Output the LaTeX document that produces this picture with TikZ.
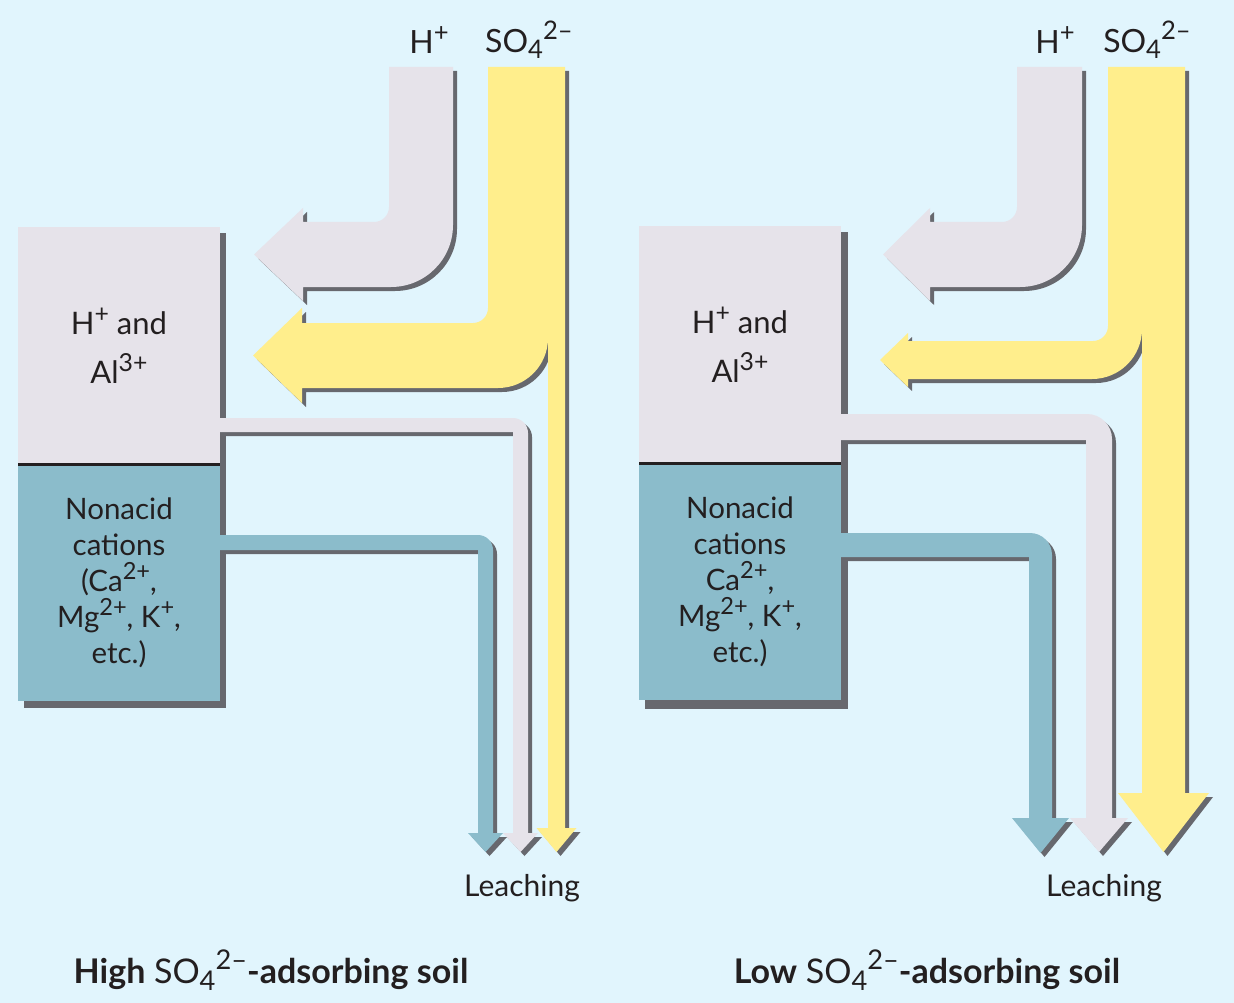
\documentclass[tikz,border=0pt]{standalone}
\usepackage{fontspec}
\setmainfont{Lato}
\usetikzlibrary{positioning, shadows}

\definecolor{bgc}{RGB}{225,245,253}
\definecolor{lav}{RGB}{230,227,234}
\definecolor{tealc}{RGB}{139,188,203}
\definecolor{yel}{RGB}{255,238,140}
\definecolor{shadowc}{RGB}{103,104,110}
\definecolor{ink}{RGB}{35,31,32}

% ion charges and subscripts, about 0.8 of the running size
\makeatletter
\newlength\ionsize
\newcommand\ionup[1]{\ionsize=0.8\dimexpr\f@size pt\relax
  \raisebox{0.4em}{\fontsize{\ionsize}{\ionsize}\selectfont #1}}
\newcommand\iondown[1]{\ionsize=0.8\dimexpr\f@size pt\relax
  \raisebox{-0.2em}{\fontsize{\ionsize}{\ionsize}\selectfont #1}}
\makeatother

\begin{document}
\begin{tikzpicture}[
  x=1pt, y=-1pt,
  % Soil compartment; colour supplied per node as soil=<colour>
  soil/.style={
    rectangle, fill=#1,
    minimum width=202, minimum height=237,
    inner sep=0pt, outer sep=0pt, align=center, text=ink
  },
  % Ion flow band; colour supplied as flow=<colour>
  flow/.style={
    fill=#1,
    drop shadow={shadow xshift=4pt, shadow yshift=-4pt, opacity=1, fill=shadowc}
  },
  acidtxt/.style={font=\fontsize{31}{49}\selectfont},
  basetxt/.style={font=\fontsize{29.5}{36}\selectfont},
  ion/.style={font=\fontsize{32}{36}\selectfont, text=ink},
  tag/.style={font=\fontsize{30}{34}\selectfont, text=ink},
  caption/.style={font=\fontsize{34}{36}\selectfont, text=ink},
  split/.style={draw=ink, line width=3pt},
]

\useasboundingbox (0,0) rectangle (1234,1003);
\fill[bgc] (0,0) rectangle (1234,1003);

%% ── Left panel: soil compartments ─────────────────────────────────────────
\fill[shadowc] (24,233) rectangle (226,708);
\node[soil=lav, acidtxt, anchor=north west] (acidL) at (18,227)
  {H\ionup{+} and\\Al\ionup{3+}};
\node[soil=tealc, basetxt, below=0pt of acidL] (baseL)
  {Nonacid\\cations\\(Ca\ionup{2+},\\Mg\ionup{2+}, K\ionup{+},\\etc.)};
\draw[split] (acidL.south west) -- (acidL.south east);

%% ── Left panel: leaching bands ────────────────────────────────────────────
\fill[flow=lav] (acidL.east |- 0,418) -- (513,418)
  arc[start angle=-90, end angle=0, radius=15] -- (528,833) -- (538,833)
  -- (520.5,852) -- (503,833) -- (513,833) -- (513,432)
  -- (acidL.east |- 0,432) -- cycle;
\fill[flow=tealc] (baseL.east |- 0,535) -- (478,535)
  arc[start angle=-90, end angle=0, radius=15] -- (493,833) -- (503,833)
  -- (485.5,852) -- (468,833) -- (478,833) -- (478,550)
  -- (baseL.east |- 0,550) -- cycle;

%% ── Left panel: inputs ────────────────────────────────────────────────────
\fill[flow=lav] (389,67) -- (389,207)
  arc[start angle=0, end angle=90, radius=15] -- (303,222) -- (303,208)
  -- (254,254.5) -- (303,301) -- (303,287) -- (391,287)
  arc[start angle=90, end angle=0, radius=62] -- (453,67) -- cycle;
\fill[flow=yel] (488,67) -- (488,308)
  arc[start angle=0, end angle=90, radius=15] -- (302,323) -- (302,308)
  -- (253,355.5) -- (302,403) -- (302,388) -- (498,388)
  arc[start angle=90, end angle=0, radius=50] -- (548,828) -- (536.5,828)
  -- (556.5,852) -- (576.5,828) -- (565,828) -- (565,67) -- cycle;

%% ── Right panel: soil compartments ────────────────────────────────────────
\fill[shadowc] (645,232) rectangle (848,709);
\node[soil=lav, acidtxt, anchor=north west] (acidR) at (639,226)
  {H\ionup{+} and\\Al\ionup{3+}};
\node[soil=tealc, basetxt, below=0pt of acidR] (baseR)
  {Nonacid\\cations\\Ca\ionup{2+},\\Mg\ionup{2+}, K\ionup{+},\\etc.)};
\draw[split] (acidR.south west) -- (acidR.south east);

%% ── Right panel: leaching bands ───────────────────────────────────────────
\fill[flow=lav] (acidR.east |- 0,414) -- (1087,414)
  arc[start angle=-90, end angle=0, radius=25] -- (1112,818) -- (1128,818)
  -- (1099,852) -- (1070,818) -- (1086,818) -- (1086,440)
  -- (acidR.east |- 0,440) -- cycle;
\fill[flow=tealc] (baseR.east |- 0,533) -- (1030,533)
  arc[start angle=-90, end angle=0, radius=22] -- (1052,818) -- (1069,818)
  -- (1040.5,853) -- (1012,818) -- (1029,818) -- (1029,557)
  -- (baseR.east |- 0,557) -- cycle;

%% ── Right panel: inputs ───────────────────────────────────────────────────
\fill[flow=lav] (1017,67) -- (1017,207)
  arc[start angle=0, end angle=90, radius=15] -- (930,222) -- (930,208)
  -- (883,254.5) -- (930,301) -- (930,287) -- (1020,287)
  arc[start angle=90, end angle=0, radius=62] -- (1082,67) -- cycle;
\fill[flow=yel] (1108,67) -- (1108,326)
  arc[start angle=0, end angle=90, radius=15] -- (908,341) -- (908,333)
  -- (880,360) -- (908,387) -- (908,379) -- (1092,379)
  arc[start angle=90, end angle=0, radius=50] -- (1142,793) -- (1118,793)
  -- (1163.5,852) -- (1209,793) -- (1185,793) -- (1185,67) -- cycle;

%% ── Labels ────────────────────────────────────────────────────────────────
\node[ion] (hL)  at (429,40)  {H\ionup{+}};
\node[ion] (soL) at (529,40)  {SO\iondown{4}\ionup{2–}};
\node[ion] (hR)  at (1055,40) {H\ionup{+}};
\node[ion] (soR) at (1147,40) {SO\iondown{4}\ionup{2–}};

\node[tag] (leachL) at (522,888)  {Leaching};
\node[tag] (leachR) at (1104,888) {Leaching};

\node[caption] (capL) at (271,970)
  {\textbf{High} SO\iondown{4}\ionup{2–}\textbf{-adsorbing soil}};
\node[caption] (capR) at (927,970)
  {\textbf{Low} SO\iondown{4}\ionup{2–}\textbf{-adsorbing soil}};

\end{tikzpicture}
\end{document}
